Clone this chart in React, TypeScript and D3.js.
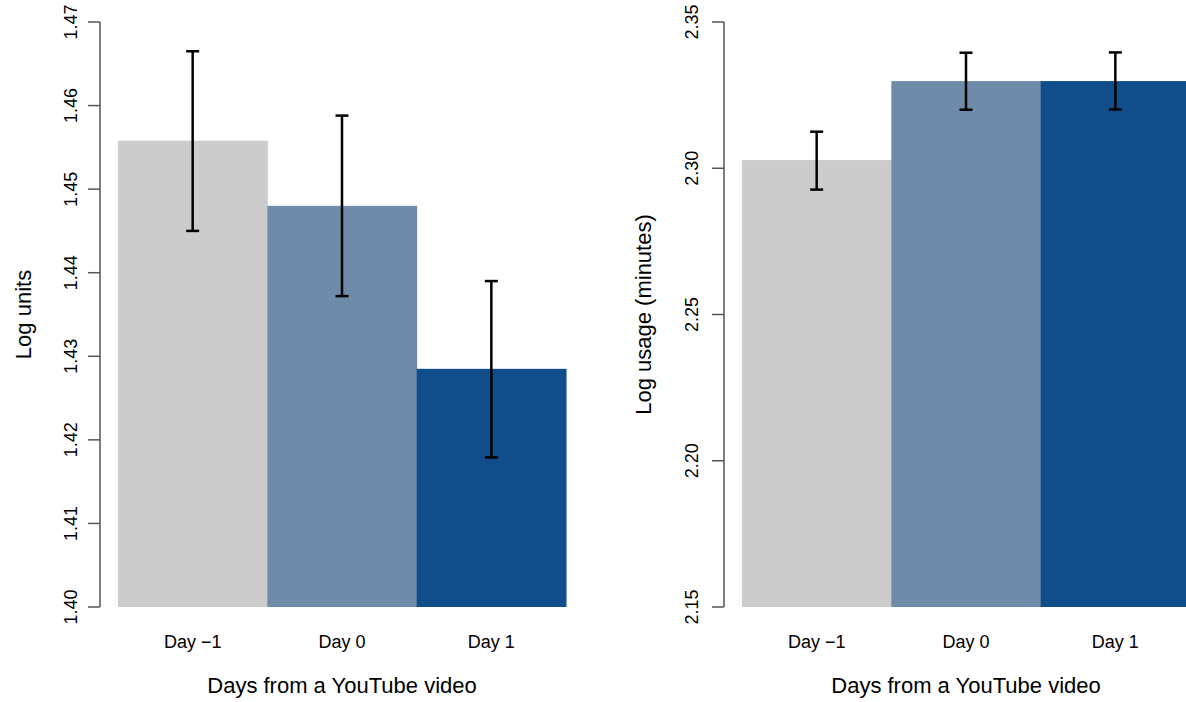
import React from "react";
import * as d3 from "d3";

const categories = ["Day \u22121", "Day 0", "Day 1"];
const colors = ["#cccccc", "#6e8caa", "#104e8b"];

// Left panel: log units
const unitsMean = [1.4558, 1.448, 1.4285];
const unitsLow = [1.445, 1.4372, 1.4179];
const unitsHigh = [1.4665, 1.4588, 1.439];
const unitsTicks = [1.4, 1.41, 1.42, 1.43, 1.44, 1.45, 1.46, 1.47];

// Right panel: log usage (minutes)
const usageMean = [2.3028, 2.3298, 2.3298];
const usageLow = [2.2927, 2.32, 2.3201];
const usageHigh = [2.3125, 2.3395, 2.3396];
const usageTicks = [2.15, 2.2, 2.25, 2.3, 2.35];

const FONT = "'Liberation Sans', Arial, Helvetica, sans-serif";

type PanelProps = {
  axisX: number;
  bandStart: number;
  bandEnd: number;
  domain: [number, number];
  ticks: number[];
  fmt: (v: number) => string;
  mean: number[];
  low: number[];
  high: number[];
  yTitle: string;
  yTitleX: number;
  tickLabelX: number;
};

function Panel(p: PanelProps) {
  const y = d3.scaleLinear().domain(p.domain).range([607, 22]);
  const x = d3.scaleBand<string>().domain(categories).range([p.bandStart, p.bandEnd]).padding(0);
  const bw = x.bandwidth();
  const cap = 6.5;
  const midX = (p.bandStart + p.bandEnd) / 2;
  return (
    <g>
      {categories.map((c, i) => (
        <rect key={c} x={x(c)!} y={y(p.mean[i])} width={bw + 0.5} height={y(p.domain[0]) - y(p.mean[i])} fill={colors[i]} />
      ))}
      {categories.map((c, i) => {
        const cx = x(c)! + bw / 2;
        return (
          <g key={"e" + c} stroke="#000" strokeWidth={2.5}>
            <line x1={cx} x2={cx} y1={y(p.low[i])} y2={y(p.high[i])} />
            <line x1={cx - cap} x2={cx + cap} y1={y(p.low[i])} y2={y(p.low[i])} />
            <line x1={cx - cap} x2={cx + cap} y1={y(p.high[i])} y2={y(p.high[i])} />
          </g>
        );
      })}
      <line x1={p.axisX} x2={p.axisX} y1={y(p.domain[0])} y2={y(p.domain[1])} stroke="#555" strokeWidth={1.5} />
      {p.ticks.map((t) => (
        <g key={t}>
          <line x1={p.axisX - 12} x2={p.axisX} y1={y(t)} y2={y(t)} stroke="#555" strokeWidth={1.5} />
          <text
            transform={`translate(${p.tickLabelX},${y(t)}) rotate(-90)`}
            textAnchor="middle"
            fontSize={18}
            fontFamily={FONT}
            fill="#000"
          >
            {p.fmt(t)}
          </text>
        </g>
      ))}
      <text
        transform={`translate(${p.yTitleX},${(22 + 607) / 2}) rotate(-90)`}
        textAnchor="middle"
        fontSize={22}
        fontFamily={FONT}
        fill="#000"
      >
        {p.yTitle}
      </text>
      {categories.map((c) => (
        <text key={"l" + c} x={x(c)! + bw / 2} y={648} textAnchor="middle" fontSize={18} fontFamily={FONT} fill="#000">
          {c}
        </text>
      ))}
      <text x={midX} y={693} textAnchor="middle" fontSize={22} fontFamily={FONT} fill="#000">
        Days from a YouTube video
      </text>
    </g>
  );
}

export default function App() {
  return (
    <svg width={1186} height={702} style={{ position: "absolute", left: 0, top: 0, background: "#fff" }}>
      <rect width={1186} height={702} fill="#fff" />
      <Panel
        axisX={100}
        bandStart={118}
        bandEnd={566}
        domain={[1.4, 1.47]}
        ticks={unitsTicks}
        fmt={d3.format(".2f")}
        mean={unitsMean}
        low={unitsLow}
        high={unitsHigh}
        yTitle="Log units"
        yTitleX={31}
        tickLabelX={77}
      />
      <Panel
        axisX={724}
        bandStart={742}
        bandEnd={1190}
        domain={[2.15, 2.35]}
        ticks={usageTicks}
        fmt={d3.format(".2f")}
        mean={usageMean}
        low={usageLow}
        high={usageHigh}
        yTitle="Log usage (minutes)"
        yTitleX={651}
        tickLabelX={698}
      />
    </svg>
  );
}
